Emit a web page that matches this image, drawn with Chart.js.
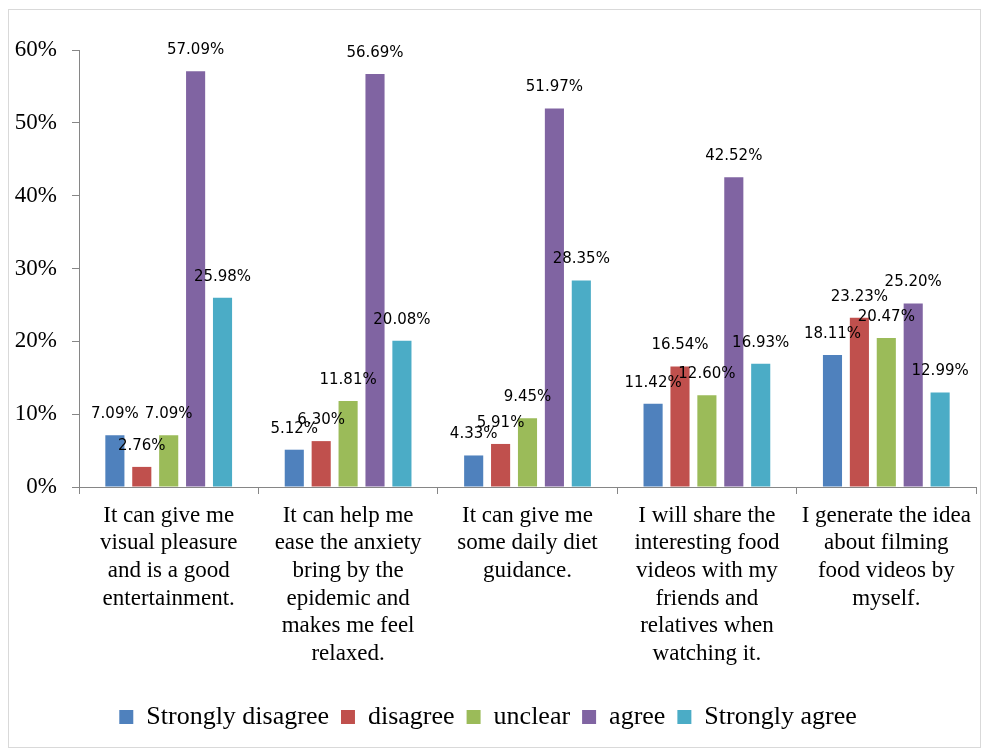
<!DOCTYPE html>
<html>
<head>
<meta charset="utf-8">
<title>Attitudes toward food videos</title>
<script src="https://cdn.jsdelivr.net/npm/chart.js@4/dist/chart.umd.min.js"></script>
<style>
  html, body { margin: 0; padding: 0; background: #fff; }
  #wrap { position: relative; width: 984px; height: 751px; }
  #frame {
    position: absolute; left: 8px; top: 9px; width: 973px; height: 739px;
    border: 1px solid #d9d9d9; box-sizing: border-box;
  }
  #chart { position: absolute; left: 0; top: 0; }
</style>
</head>
<body>
<div id="wrap">
  <div id="frame"></div>
  <canvas id="chart" width="984" height="751"></canvas>
</div>
<script>
// statements shown on the x axis, already wrapped into lines
const statements = [
  ["It can give me", "visual pleasure", "and is a good", "entertainment."],
  ["It can help me", "ease the anxiety", "bring by the", "epidemic and", "makes me feel", "relaxed."],
  ["It can give me", "some daily diet", "guidance."],
  ["I will share the", "interesting food", "videos with my", "friends and", "relatives when", "watching it."],
  ["I generate the idea", "about filming", "food videos by", "myself."]
];

// share of respondents (%) per answer
const stronglyDisagree = [7.09, 5.12, 4.33, 11.42, 18.11];
const disagree = [2.76, 6.30, 5.91, 16.54, 23.23];
const unclear = [7.09, 11.81, 9.45, 12.60, 20.47];
const agree = [57.09, 56.69, 51.97, 42.52, 25.20];
const stronglyAgree = [25.98, 20.08, 28.35, 16.93, 12.99];

const yTicks = [0, 10, 20, 30, 40, 50, 60];

const serif = "'Liberation Serif', 'Times New Roman', serif";

// writes each bar's value just above it
const valueLabels = {
  id: "valueLabels",
  afterDatasetsDraw(chart) {
    const ctx = chart.ctx;
    ctx.save();
    ctx.font = "15px 'DejaVu Sans', sans-serif";
    ctx.fillStyle = "#000";
    ctx.textAlign = "center";
    ctx.textBaseline = "middle";
    chart.data.datasets.forEach((ds, i) => {
      chart.getDatasetMeta(i).data.forEach((bar, j) => {
        ctx.fillText(ds.data[j].toFixed(2) + "%", bar.x, bar.y - 21);
      });
    });
    ctx.restore();
  }
};

const axisLine = "#868686";

new Chart(document.getElementById("chart"), {
  type: "bar",
  data: {
    labels: statements,
    datasets: [
      { label: "Strongly disagree", data: stronglyDisagree, backgroundColor: "#4F81BD" },
      { label: "disagree", data: disagree, backgroundColor: "#C0504D" },
      { label: "unclear", data: unclear, backgroundColor: "#9BBB59" },
      { label: "agree", data: agree, backgroundColor: "#8064A2" },
      { label: "Strongly agree", data: stronglyAgree, backgroundColor: "#4BACC6" }
    ]
  },
  options: {
    responsive: false,
    animation: false,
    devicePixelRatio: 1,
    categoryPercentage: 0.75,
    barPercentage: 0.71,
    layout: { padding: { top: 50, right: 8, bottom: 11, left: 0 } },
    plugins: {
      tooltip: { enabled: false },
      legend: {
        position: "bottom",
        labels: {
          color: "#000",
          font: { family: serif, size: 26 },
          boxWidth: 14,
          boxHeight: 14,
          padding: 12
        }
      }
    },
    scales: {
      x: {
        grid: { drawOnChartArea: false, drawTicks: true, tickLength: 7, color: axisLine },
        border: { color: axisLine },
        ticks: {
          color: "#000",
          font: { family: serif, size: 23, lineHeight: 1.2 },
          padding: 8,
          maxRotation: 0,
          autoSkip: false
        },
        afterFit(scale) { scale.height = 205; }
      },
      y: {
        min: 0,
        max: 60,
        grid: { drawOnChartArea: false, drawTicks: true, tickLength: 7, color: axisLine },
        border: { color: axisLine },
        afterBuildTicks(scale) { scale.ticks = yTicks.map((v) => ({ value: v })); },
        ticks: {
          color: "#000",
          font: { family: serif, size: 23 },
          padding: 15,
          callback: (v) => v + "%"
        },
        afterFit(scale) { scale.width = 79; }
      }
    }
  },
  plugins: [valueLabels]
});
</script>
</body>
</html>
